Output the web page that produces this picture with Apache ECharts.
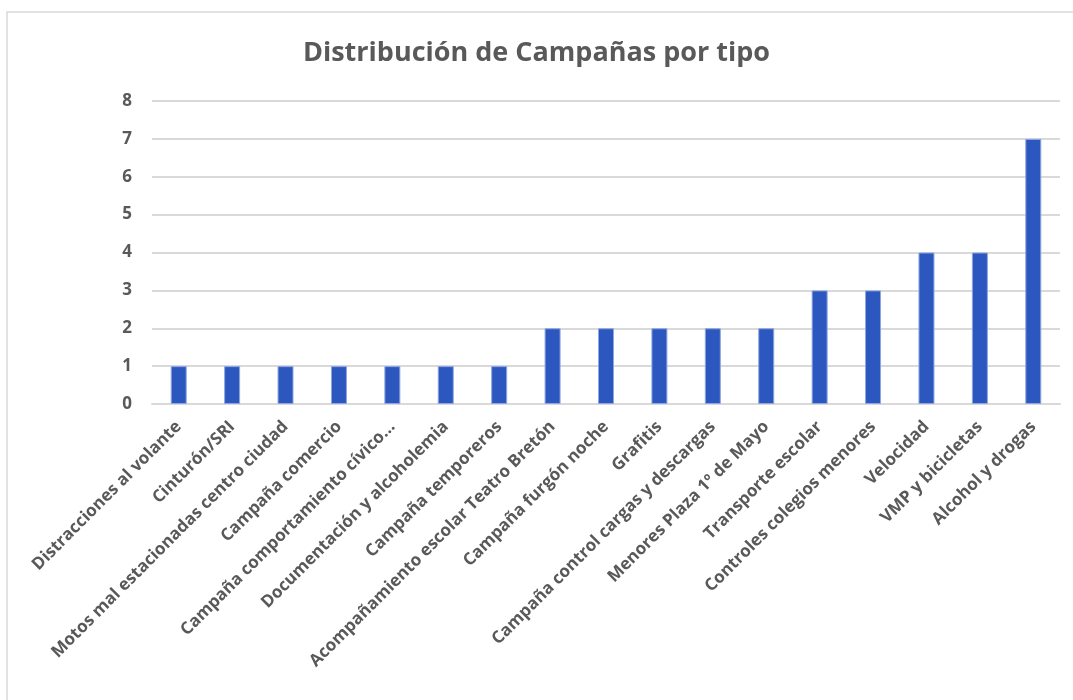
<!DOCTYPE html>
<html>
<head>
<meta charset="utf-8">
<script src="https://cdn.jsdelivr.net/npm/echarts@6/dist/echarts.min.js"></script>
<style>
  html, body { margin: 0; padding: 0; background: #fff; }
  #chart { width: 1073px; height: 700px; }
</style>
</head>
<body>
<div id="chart"></div>
<script>
// categorías y número de campañas
const categorias = [
  'Distracciones al volante',
  'Cinturón/SRI',
  'Motos mal estacionadas centro ciudad',
  'Campaña comercio',
  'Campaña comportamiento cívico…',
  'Documentación y alcoholemia',
  'Campaña temporeros',
  'Acompañamiento escolar Teatro Bretón',
  'Campaña furgón noche',
  'Grafitis',
  'Campaña control cargas y descargas',
  'Menores Plaza 1º de Mayo',
  'Transporte escolar',
  'Controles colegios menores',
  'Velocidad',
  'VMP y bicicletas',
  'Alcohol y drogas'
];
const campanas = [1, 1, 1, 1, 1, 1, 1, 2, 2, 2, 2, 2, 3, 3, 4, 4, 7];

const chart = echarts.init(document.getElementById('chart'));
const textColor = '#595959';
const fontFam = '"Open Sans", sans-serif';

chart.setOption({
  animation: false,
  textStyle: { fontFamily: fontFam },
  title: {
    text: 'Distribución de Campañas por tipo',
    left: 'center',
    top: 35,
    textStyle: { fontSize: 27, fontWeight: 'bold', color: textColor, fontFamily: fontFam }
  },
  // marco del gráfico
  graphic: [{
    type: 'rect',
    shape: { x: 7, y: 12, width: 1100, height: 720 },
    style: { fill: 'none', stroke: '#d9d9d9', lineWidth: 1.5 },
    silent: true
  }],
  grid: { left: 152, right: 13, top: 101, bottom: 296 },
  xAxis: {
    type: 'category',
    data: categorias,
    axisLine: { show: true, lineStyle: { color: '#d9d9d9', width: 2 } },
    axisTick: { show: false },
    axisLabel: {
      interval: 0,
      rotate: 45,
      margin: 20,
      color: textColor,
      fontSize: 17,
      fontWeight: 'bold',
      fontFamily: fontFam
    }
  },
  yAxis: {
    type: 'value',
    min: 0,
    max: 8,
    interval: 1,
    axisLine: { show: false },
    axisTick: { show: false },
    splitLine: { lineStyle: { color: '#d9d9d9', width: 2 } },
    axisLabel: {
      margin: 20,
      color: textColor,
      fontSize: 17,
      fontWeight: 'bold',
      fontFamily: fontFam
    }
  },
  series: [{
    type: 'bar',
    data: campanas,
    barWidth: 16,
    itemStyle: { color: '#2b57bf', borderColor: '#8ea7e0', borderWidth: 1 }
  }]
});
</script>
</body>
</html>
